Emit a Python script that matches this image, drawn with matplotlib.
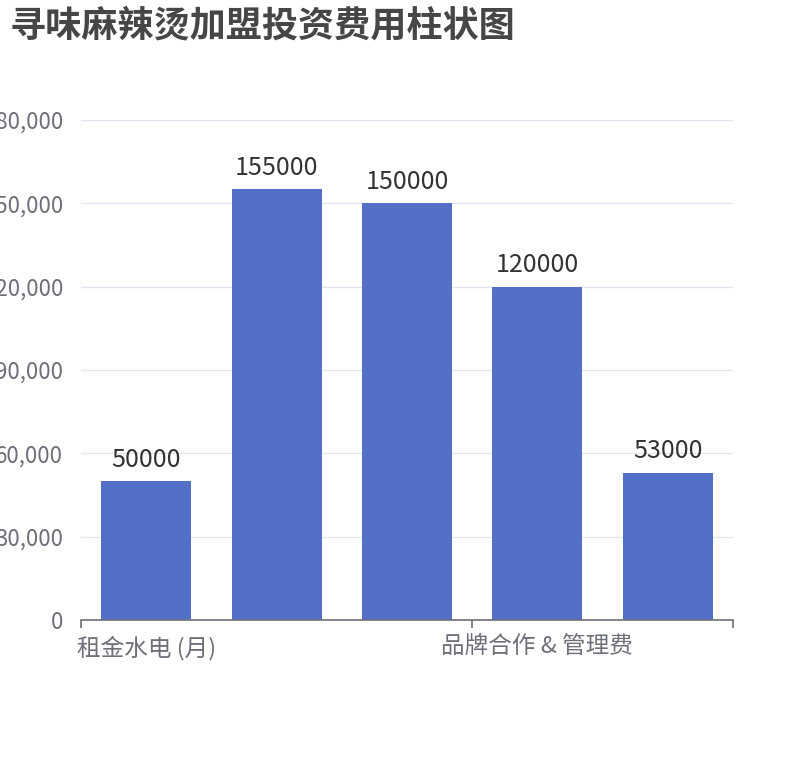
import matplotlib
matplotlib.use('Agg')
import matplotlib.pyplot as plt
from matplotlib.ticker import FuncFormatter, FixedLocator

plt.rcParams['font.family'] = ['Noto Sans CJK SC', 'DejaVu Sans']

# Data
categories = ['租金水电 (月)', '装修费用', '设备费用', '品牌合作 & 管理费', '首批进货']
values = [50000, 155000, 150000, 120000, 53000]
shown_labels = [0, 3]
y_ticks = [0, 30000, 60000, 90000, 120000, 150000, 180000]

fig = plt.figure(figsize=(8.1, 7.6), dpi=100)
ax = fig.add_axes([81 / 810, 1 - 620 / 760, 652 / 810, 500 / 760])

x = list(range(len(categories)))
ax.bar(x, values, width=0.69, color='#5470C6', zorder=3)
for xi, v in zip(x, values):
    ax.annotate(str(v), (xi, v), xytext=(0, 6), textcoords='offset points',
                ha='center', va='bottom', fontsize=18, color='#333333',
                zorder=4)

ax.set_xlim(-0.5, len(categories) - 0.5)
ax.set_ylim(0, 180000)

# y axis
ax.set_yticks(y_ticks)
ax.yaxis.set_major_formatter(FuncFormatter(lambda v, p: f'{int(v):,}'))
ax.tick_params(axis='y', length=0, pad=13, labelsize=16, labelcolor='#6E7079')
ax.grid(axis='y', color='#E0E6F1', linewidth=1, zorder=0)

# x axis: only some labels fit, ticks at category boundaries
ax.xaxis.set_major_locator(FixedLocator([i for i in shown_labels]))
ax.set_xticklabels([categories[i] for i in shown_labels])
ax.xaxis.set_minor_locator(FixedLocator([-0.5, 2.5, 4.5]))
ax.tick_params(axis='x', which='major', length=0, pad=11, labelsize=17,
               labelcolor='#6E7079')
ax.tick_params(axis='x', which='minor', length=6, width=1.2, color='#6E7079')

for side in ['top', 'right', 'left']:
    ax.spines[side].set_visible(False)
ax.spines['bottom'].set_color('#6E7079')
ax.spines['bottom'].set_linewidth(1.2)
ax.spines['bottom'].set_zorder(5)

fig.text(10 / 810, 1 - 26 / 760, '寻味麻辣烫加盟投资费用柱状图', fontsize=26,
         fontweight='bold', color='#464646', ha='left', va='center')

fig.savefig('out.png', dpi=100)
